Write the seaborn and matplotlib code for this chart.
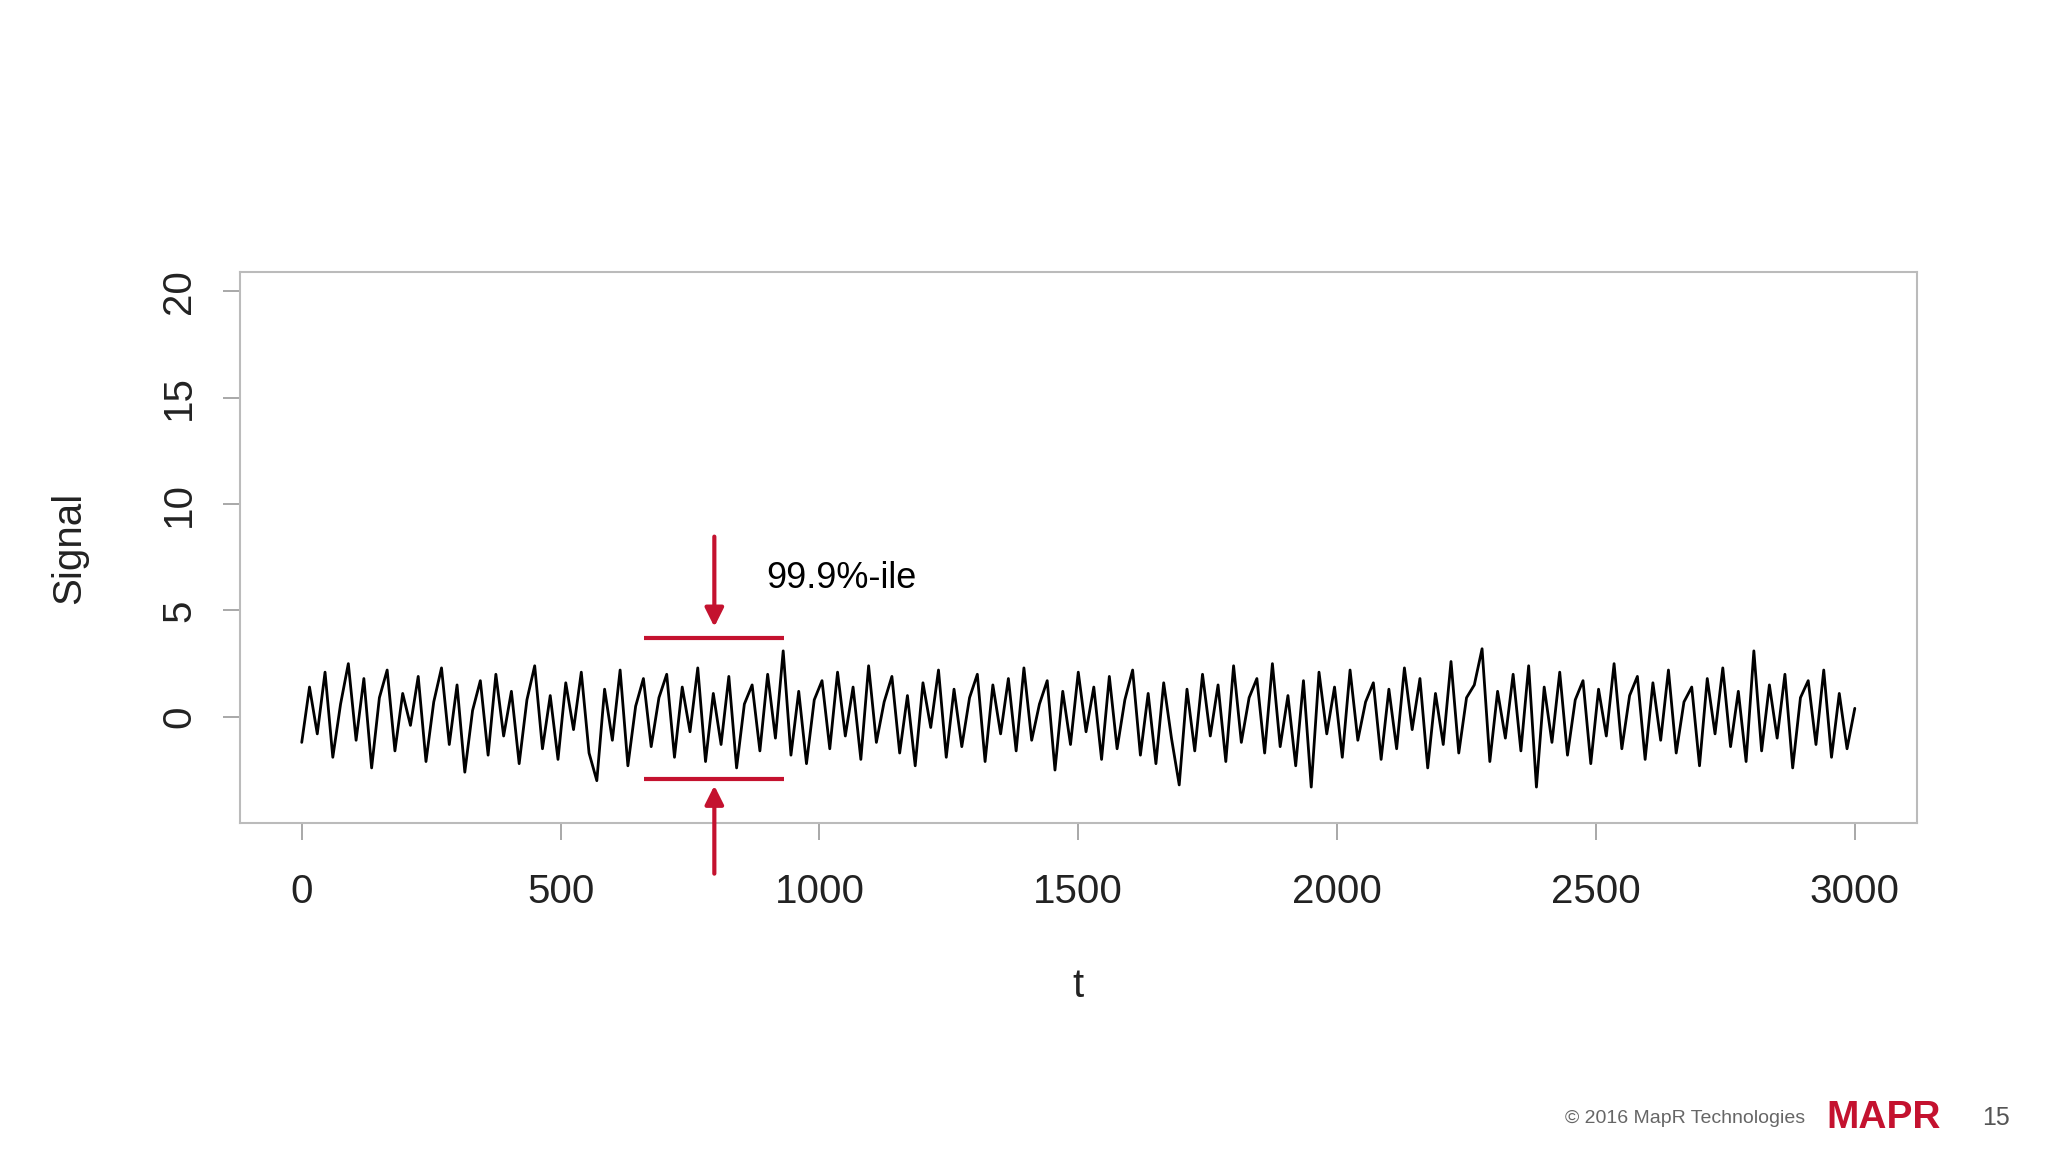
import numpy as np
import pandas as pd
import seaborn as sns
import matplotlib.pyplot as plt

# signal, one value every 15 time steps
t_step = 15
signal = [
    -1.2, 1.4, -0.8, 2.1, -1.9, 0.6, 2.5, -1.1, 1.8, -2.4,
    0.9, 2.2, -1.6, 1.1, -0.4, 1.9, -2.1, 0.7, 2.3, -1.3,
    1.5, -2.6, 0.3, 1.7, -1.8, 2.0, -0.9, 1.2, -2.2, 0.8,
    2.4, -1.5, 1.0, -2.0, 1.6, -0.6, 2.1, -1.7, -3.0, 1.3,
    -1.1, 2.2, -2.3, 0.5, 1.8, -1.4, 0.9, 2.0, -1.9, 1.4,
    -0.7, 2.3, -2.1, 1.1, -1.3, 1.9, -2.4, 0.6, 1.5, -1.6,
    2.0, -1.0, 3.1, -1.8, 1.2, -2.2, 0.8, 1.7, -1.5, 2.1,
    -0.9, 1.4, -2.0, 2.4, -1.2, 0.7, 1.9, -1.7, 1.0, -2.3,
    1.6, -0.5, 2.2, -1.9, 1.3, -1.4, 0.9, 2.0, -2.1, 1.5,
    -0.8, 1.8, -1.6, 2.3, -1.1, 0.6, 1.7, -2.5, 1.2, -1.3,
    2.1, -0.7, 1.4, -2.0, 1.9, -1.5, 0.8, 2.2, -1.8, 1.1,
    -2.2, 1.6, -1.0, -3.2, 1.3, -1.6, 2.0, -0.9, 1.5, -2.1,
    2.4, -1.2, 0.9, 1.8, -1.7, 2.5, -1.4, 1.0, -2.3, 1.7,
    -3.3, 2.1, -0.8, 1.4, -1.9, 2.2, -1.1, 0.7, 1.6, -2.0,
    1.3, -1.5, 2.3, -0.6, 1.8, -2.4, 1.1, -1.3, 2.6, -1.7,
    0.9, 1.5, 3.2, -2.1, 1.2, -1.0, 2.0, -1.6, 2.4, -3.3,
    1.4, -1.2, 2.1, -1.8, 0.8, 1.7, -2.2, 1.3, -0.9, 2.5,
    -1.5, 1.0, 1.9, -2.0, 1.6, -1.1, 2.2, -1.7, 0.7, 1.4,
    -2.3, 1.8, -0.8, 2.3, -1.4, 1.2, -2.1, 3.1, -1.6, 1.5,
    -1.0, 2.0, -2.4, 0.9, 1.7, -1.3, 2.2, -1.9, 1.1, -1.5,
    0.4,
]
t = np.arange(len(signal)) * t_step
df = pd.DataFrame({"t": t, "Signal": signal})

# percentile band
band_lo, band_hi = -2.9, 3.7
band_t0, band_t1 = 661, 931
arrow_t = 797
red = "#c4122f"
grey = "#9a9a9a"

sns.set_style("white")
plt.rcParams["font.family"] = ["Liberation Sans", "DejaVu Sans"]

fig = plt.figure(figsize=(20.48, 11.53), dpi=100)
ax = fig.add_axes([0.117, 0.286, 0.819, 0.478])
sns.lineplot(data=df, x="t", y="Signal", color="black", lw=2.0, ax=ax)

ax.set_xlim(-120, 3120)
ax.set_ylim(-5, 20.9)
ax.set_xticks([0, 500, 1000, 1500, 2000, 2500, 3000])
ax.set_yticks([0, 5, 10, 15, 20])
ax.tick_params(axis="x", labelsize=29, colors=grey, labelcolor="#222222",
               length=12, width=1.2, direction="out", bottom=True, pad=24)
ax.tick_params(axis="y", labelsize=29, colors=grey, labelcolor="#222222",
               length=12, width=1.2, direction="out", left=True, pad=18,
               labelrotation=90)
for lab in ax.get_yticklabels():
    lab.set_va("center")
for s in ax.spines.values():
    s.set_color("#bbbbbb")
    s.set_linewidth(1.5)
ax.set_xlabel("t", fontsize=29, color="#222222", labelpad=40)
ax.set_ylabel("Signal", fontsize=29, color="#222222", labelpad=52)

ax.hlines([band_hi, band_lo], band_t0, band_t1, color=red, lw=3)
ax.annotate("", xy=(arrow_t, 4.1), xytext=(arrow_t, 8.6),
            arrowprops=dict(arrowstyle="-|>", color=red, lw=3, mutation_scale=28))
ax.annotate("", xy=(arrow_t, -3.1), xytext=(arrow_t, -7.5),
            arrowprops=dict(arrowstyle="-|>", color=red, lw=3, mutation_scale=28),
            annotation_clip=False)
ax.text(898, 6.5, "99.9%-ile", fontsize=26, color="black", va="center")

fig.text(0.764, 0.03, "© 2016 MapR Technologies", fontsize=14, color="#666666", va="center")
fig.text(0.892, 0.03, "MAPR", fontsize=28, color=red, va="center", weight="bold")
fig.text(0.968, 0.03, "15", fontsize=18, color="#555555", va="center")

fig.savefig("out.png", dpi=100)
